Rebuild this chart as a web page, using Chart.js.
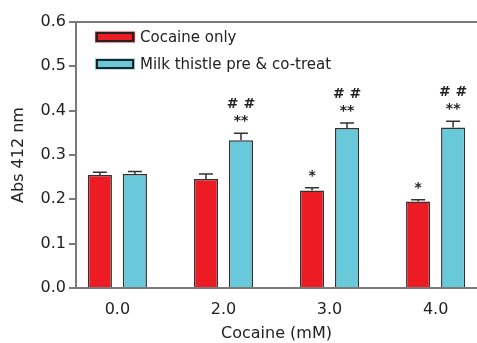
<!DOCTYPE html>
<html>
<head>
<meta charset="utf-8">
<script src="https://cdn.jsdelivr.net/npm/chart.js@4"></script>
<style>
  html, body { margin: 0; padding: 0; background: #fff; }
  #wrap { width: 477px; height: 343px; }
</style>
</head>
<body>
<div id="wrap"><canvas id="absChart" width="477" height="343"></canvas></div>
<script>
    // 資料
    const categories = ['0.0', '2.0', '3.0', '4.0'];
    const cocaineOnly = [0.255, 0.246, 0.220, 0.195];
    const cocaineErr = [0.006, 0.011, 0.006, 0.004];
    const milkThistle = [0.257, 0.333, 0.361, 0.362];
    const milkErr = [0.006, 0.016, 0.011, 0.014];
    const cocaineStar = ['', '', '*', '*'];
    const milkStar = ['', '**', '**', '**'];
    const milkHash = ['', '# #', '# #', '# #'];
    const yTicks = [0, 0.1, 0.2, 0.3, 0.4, 0.5, 0.6];

    const FONT = '"DejaVu Sans", "Liberation Sans", Arial, sans-serif';
    const TXT = '#222';
    const AXIS = '#7a7a7a';

    const errs = [cocaineErr, milkErr];

    // 誤差線 + 星號 + 上框線 + 圖例
    const extras = {
        id: 'extras',
        afterDatasetsDraw(chart) {
            const ctx = chart.ctx;
            const ys = chart.scales.y;
            const area = chart.chartArea;
            ctx.save();

            // top border
            ctx.strokeStyle = AXIS;
            ctx.lineWidth = 2;
            ctx.beginPath();
            ctx.moveTo(area.left - 1, area.top);
            ctx.lineTo(area.right, area.top);
            ctx.stroke();

            // error bars
            ctx.strokeStyle = '#333';
            ctx.lineWidth = 1.5;
            chart.data.datasets.forEach((ds, di) => {
                const meta = chart.getDatasetMeta(di);
                meta.data.forEach((bar, i) => {
                    const v = ds.data[i].y;
                    const top = ys.getPixelForValue(v + errs[di][i]);
                    ctx.beginPath();
                    ctx.moveTo(bar.x, bar.y);
                    ctx.lineTo(bar.x, top);
                    ctx.moveTo(bar.x - 7, top);
                    ctx.lineTo(bar.x + 7, top);
                    ctx.stroke();

                    ctx.fillStyle = TXT;
                    ctx.textAlign = 'center';
                    ctx.textBaseline = 'middle';
                    if (di === 0 && cocaineStar[i]) {
                        ctx.font = 'bold 14px ' + FONT;
                        ctx.fillText(cocaineStar[i], bar.x, top - 11);
                    }
                    if (di === 1 && milkStar[i]) {
                        ctx.font = 'bold 14px ' + FONT;
                        ctx.fillText(milkStar[i], bar.x, top - 12);
                        ctx.font = 'bold 14px ' + FONT;
                        ctx.fillText(milkHash[i], bar.x, top - 29);
                    }
                });
            });

            // legend
            ctx.font = '15px ' + FONT;
            ctx.textAlign = 'left';
            ctx.textBaseline = 'middle';
            chart.data.datasets.forEach((ds, di) => {
                const cy = 37 + di * 27;
                ctx.fillStyle = ds.backgroundColor;
                ctx.fillRect(95, cy - 5.5, 40, 11);
                ctx.strokeStyle = '#222';
                ctx.lineWidth = 2;
                ctx.strokeRect(97, cy - 4, 36, 8);
                ctx.fillStyle = TXT;
                ctx.fillText(ds.label, 140, cy + 1);
            });
            ctx.restore();
        }
    };

    new Chart(document.getElementById('absChart'), {
        type: 'bar',
        data: {
            datasets: [
                {
                    label: 'Cocaine only',
                    data: cocaineOnly.map((v, i) => ({ x: i, y: v })),
                    backgroundColor: '#ED1C24',
                    borderColor: '#333',
                    borderWidth: 1.5,
                    categoryPercentage: 0.66,
                    barPercentage: 0.69
                },
                {
                    label: 'Milk thistle pre & co-treat',
                    data: milkThistle.map((v, i) => ({ x: i, y: v })),
                    backgroundColor: '#68C9DA',
                    borderColor: '#333',
                    borderWidth: 1.5,
                    categoryPercentage: 0.66,
                    barPercentage: 0.69
                }
            ]
        },
        options: {
            responsive: false,
            animation: false,
            devicePixelRatio: 1,
            layout: { padding: { top: 22, right: 0, left: 9, bottom: 0 } },
            plugins: { legend: { display: false }, tooltip: { enabled: false } },
            scales: {
                x: {
                    type: 'linear',
                    offset: false,
                    min: -0.39,
                    max: 3.39,
                    afterBuildTicks: (s) => { s.ticks = categories.map((c, i) => ({ value: i })); },
                    afterFit: (s) => { s.height = 55; },
                    ticks: {
                        callback: (v) => categories[v],
                        color: TXT,
                        font: { family: FONT, size: 16 },
                        padding: 12
                    },
                    grid: { display: false, drawTicks: false, offset: false },
                    border: { color: AXIS, width: 2 },
                    title: {
                        display: true,
                        text: 'Cocaine (mM)',
                        color: TXT,
                        font: { family: FONT, size: 16 },
                        padding: { top: 1, bottom: 0 }
                    }
                },
                y: {
                    min: 0,
                    max: 0.6,
                    afterBuildTicks: (s) => { s.ticks = yTicks.map(v => ({ value: v })); },
                    afterFit: (s) => { s.width = 67; },
                    ticks: {
                        callback: (v) => v.toFixed(1),
                        color: TXT,
                        font: { family: FONT, size: 16 },
                        padding: 3
                    },
                    grid: {
                        drawOnChartArea: false,
                        drawTicks: true,
                        tickLength: 7,
                        color: AXIS,
                        lineWidth: 2
                    },
                    border: { color: AXIS, width: 2 },
                    title: {
                        display: true,
                        text: 'Abs 412 nm',
                        color: TXT,
                        font: { family: FONT, size: 16 },
                        padding: { top: 0, bottom: 0 }
                    }
                }
            }
        },
        plugins: [extras]
    });
</script>
</body>
</html>
